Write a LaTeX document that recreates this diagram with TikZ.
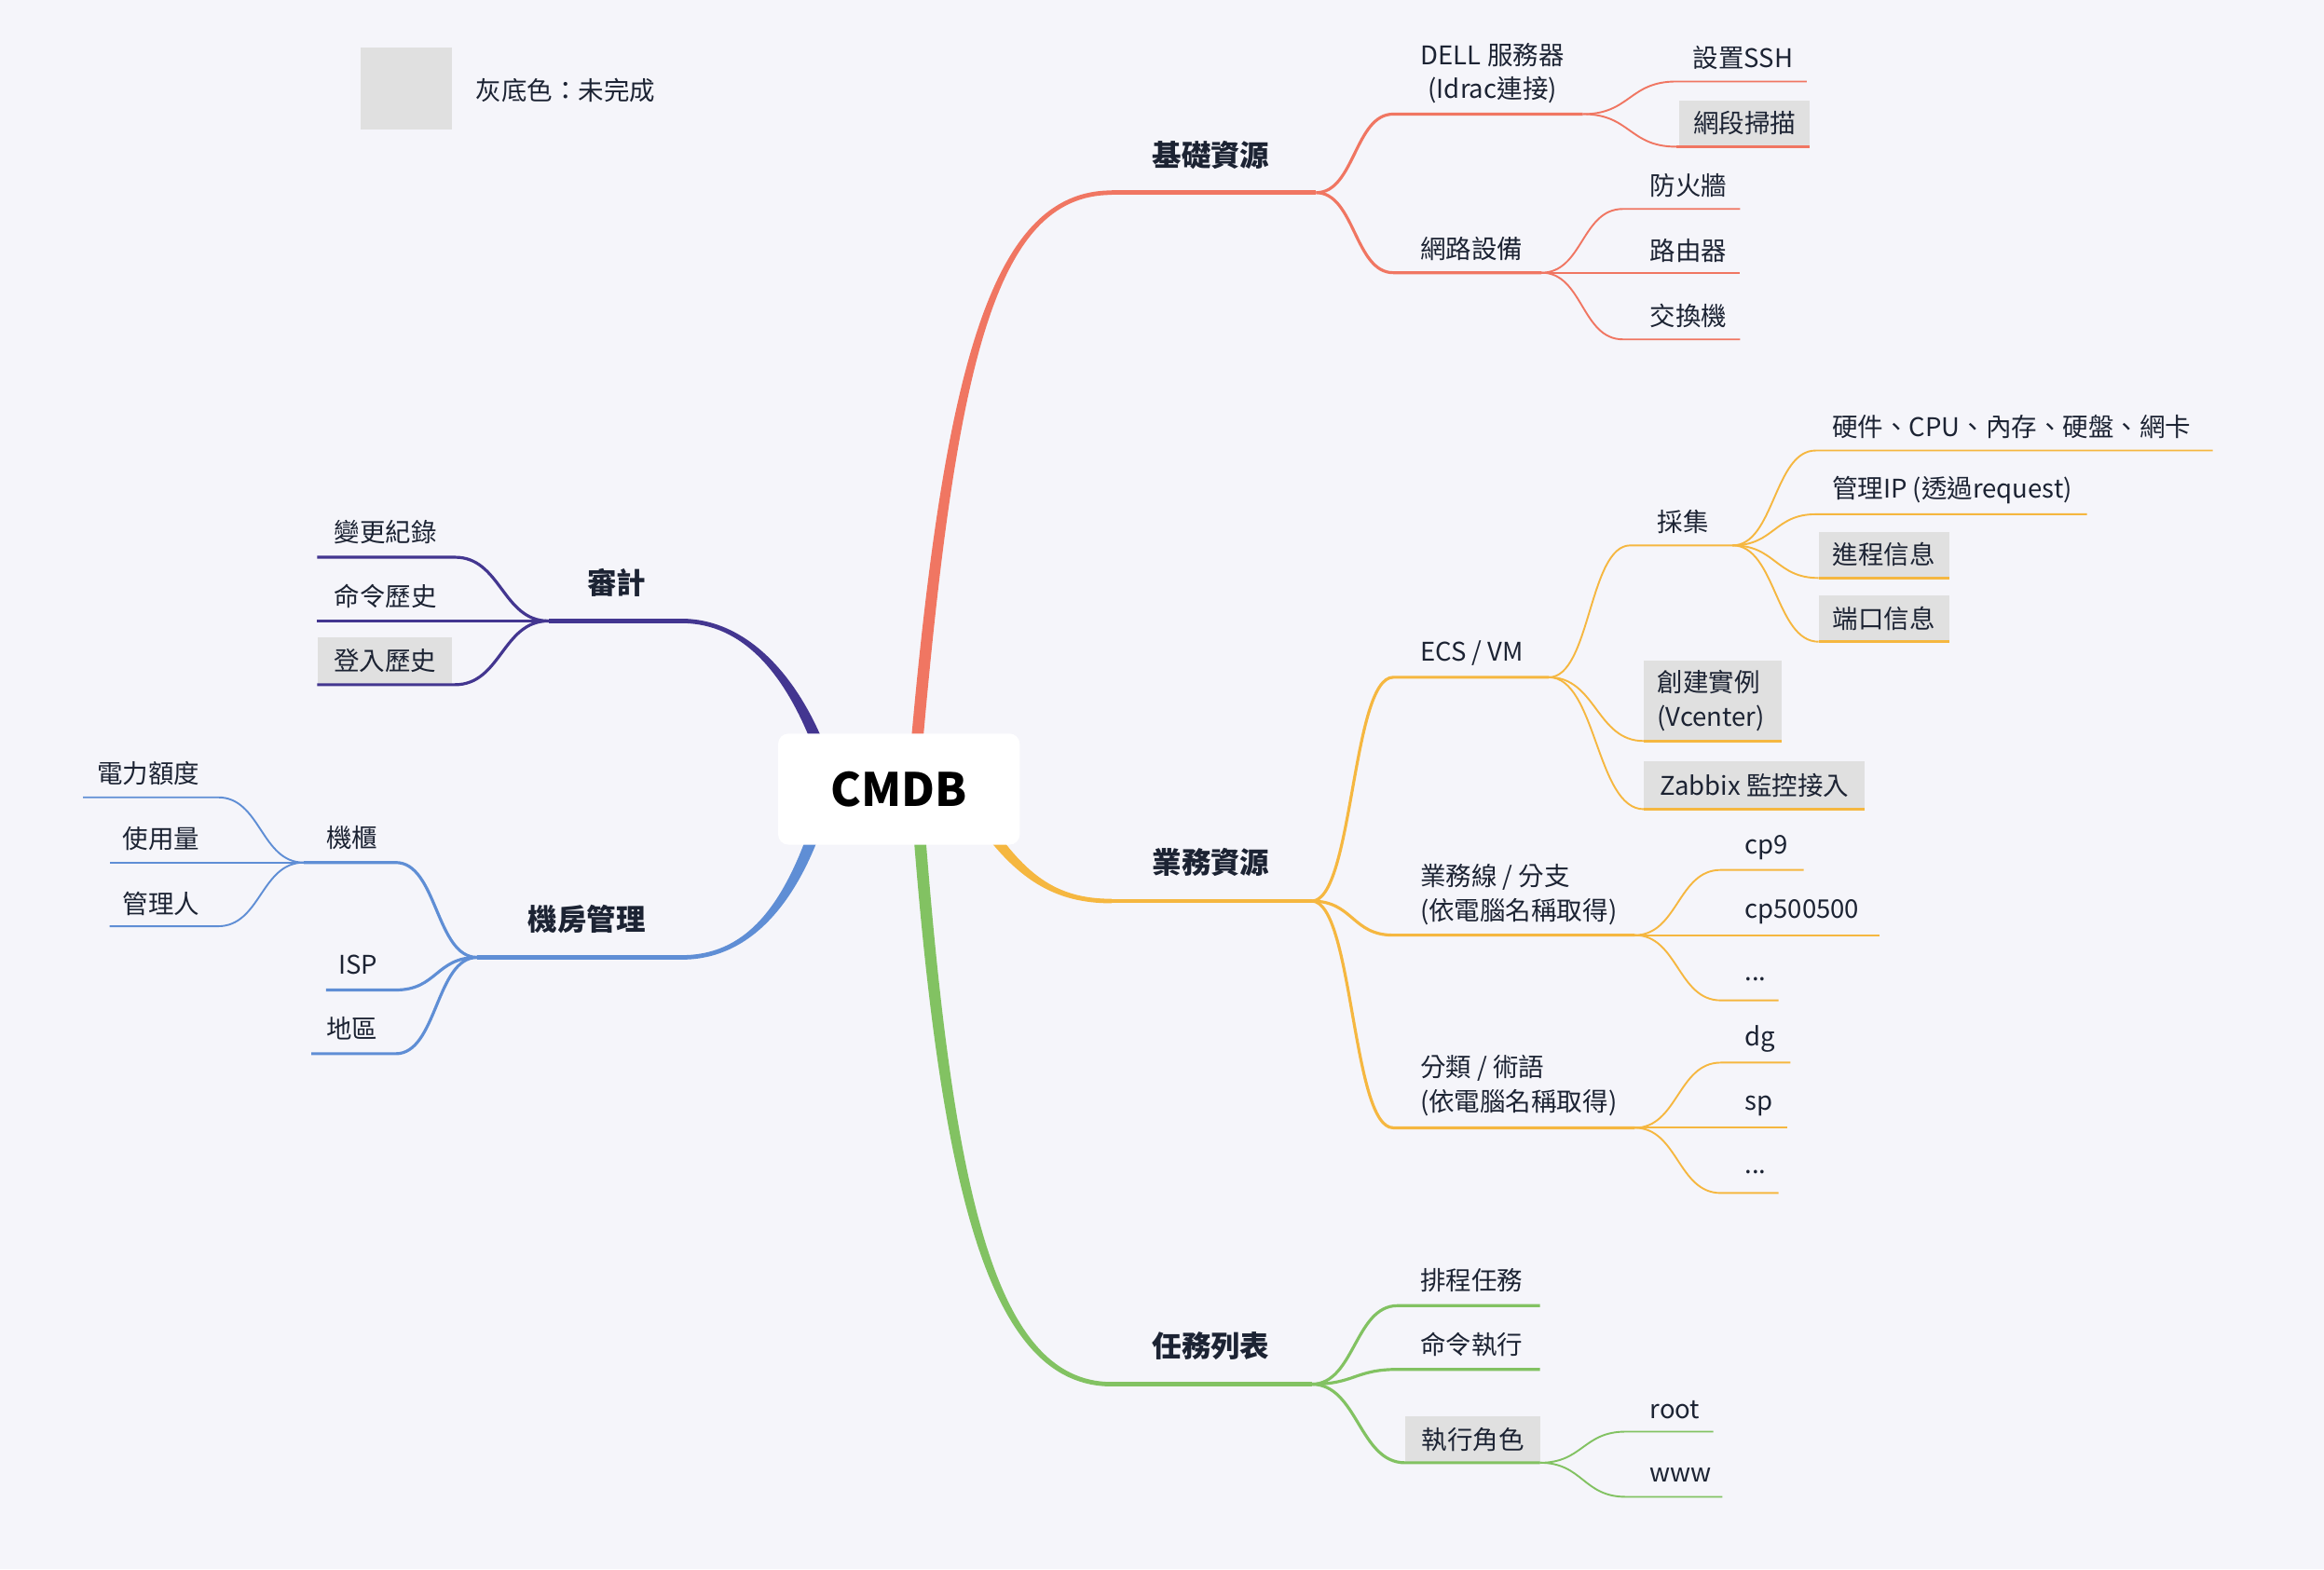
\documentclass[tikz,border=0pt]{standalone}
\usepackage{fontspec}
\setmainfont{Noto Sans CJK TC}
\definecolor{bg}{RGB}{245,245,250}
\definecolor{ink}{RGB}{28,35,51}
\definecolor{gfill}{RGB}{224,224,224}
\definecolor{cR}{RGB}{240,118,98}
\definecolor{cO}{RGB}{245,183,64}
\definecolor{cG}{RGB}{130,194,98}
\definecolor{cP}{RGB}{67,54,144}
\definecolor{cB}{RGB}{95,142,213}
\begin{document}
\begin{tikzpicture}[x=1pt,y=-1pt,
  txt/.style={inner sep=0pt,text=ink,font=\fontsize{17.3}{23}\selectfont,anchor=west},
  txtL/.style={txt,anchor=east},
  mainlbl/.style={inner sep=0pt,text=ink,font=\fontsize{19.8}{24}\selectfont\bfseries,anchor=center},
  gbox/.style={fill=gfill,inner sep=0pt,anchor=south west,text=ink,font=\fontsize{17.3}{23}\selectfont},
  l1/.style={line width=3pt},
  l2/.style={line width=2pt},
  l3/.style={line width=1.2pt},
  ul/.style={line width=1.8pt},
  toR/.style={out=0,in=180},
  toL/.style={out=180,in=0}]
% background
\fill[bg] (0,0) rectangle (1568,1059);
\useasboundingbox (0,0) rectangle (1568,1059);

% legend
\node[fill=gfill,inner sep=0pt,minimum width=62pt,minimum height=55pt,anchor=north west] (legbox) at (243,32) {};
\node[txt] (legtxt) at (321,61) {灰底色：未完成};

% ---------- root branches (tapered) ----------
\fill[cR] (613,520) .. controls (636,250) and (668,128.5) .. (750,128.5)
  -- (750,131.5) .. controls (670,131.5) and (644,250) .. (621,520) -- cycle;
\fill[cO] (663.3,547.8) .. controls (690.5,590) and (712,606.5) .. (750,606.5)
  -- (750,609.5) .. controls (712,609.5) and (685.5,594) .. (656.7,552.2) -- cycle;
\fill[cG] (615,545) .. controls (634,800) and (666,935.5) .. (750,935.5)
  -- (750,932.5) .. controls (670,932.5) and (642,800) .. (623,545) -- cycle;
\fill[cP] (556.2,526.2) .. controls (536.2,461.2) and (505,420.5) .. (460,420.5)
  -- (460,417.5) .. controls (505,417.5) and (543.8,458.8) .. (563.8,523.8) -- cycle;
\fill[cB] (551.2,543.8) .. controls (531.2,608.8) and (505,644.5) .. (460,644.5)
  -- (460,647.5) .. controls (505,647.5) and (538.8,611.2) .. (558.8,546.2) -- cycle;

% ---------- coordinates ----------
% red
\coordinate (rS) at (750,130); \coordinate (jR) at (888,130);
\coordinate (dellS) at (940,77); \coordinate (dellE) at (1068,77);
\coordinate (netS) at (940,184); \coordinate (netE) at (1040,184);
\coordinate (sshS) at (1131,55); \coordinate (sshE) at (1219,55);
\coordinate (scanS) at (1131,99); \coordinate (scanE) at (1221,99);
\coordinate (fwS) at (1095,141); \coordinate (fwE) at (1174,141);
\coordinate (rtE) at (1174,184);
\coordinate (swS) at (1095,229); \coordinate (swE) at (1174,229);
% orange
\coordinate (oS) at (750,608); \coordinate (jO) at (885,608);
\coordinate (ecsS) at (940,457); \coordinate (ecsE) at (1045,457);
\coordinate (bizS) at (940,631); \coordinate (bizE) at (1103,631);
\coordinate (catS) at (940,761); \coordinate (catE) at (1103,761);
\coordinate (colS) at (1100,368); \coordinate (colE) at (1169,368);
\coordinate (crtS) at (1109,500); \coordinate (crtE) at (1202,500);
\coordinate (zbxS) at (1109,546); \coordinate (zbxE) at (1258,546);
\coordinate (hwS) at (1225,304); \coordinate (hwE) at (1493,304);
\coordinate (ipS) at (1225,347); \coordinate (ipE) at (1408,347);
\coordinate (prcS) at (1227,390); \coordinate (prcE) at (1315,390);
\coordinate (prtS) at (1227,433); \coordinate (prtE) at (1315,433);
\coordinate (cp9S) at (1161,587); \coordinate (cp9E) at (1217,587);
\coordinate (cp5E) at (1268,631);
\coordinate (d1S) at (1161,675); \coordinate (d1E) at (1200,675);
\coordinate (dgS) at (1161,717); \coordinate (dgE) at (1208,717);
\coordinate (spE) at (1206,761);
\coordinate (d2S) at (1161,805); \coordinate (d2E) at (1200,805);
% green
\coordinate (gS) at (750,934); \coordinate (jG) at (885,934);
\coordinate (schS) at (943,881); \coordinate (schE) at (1039,881);
\coordinate (cmdS) at (943,924); \coordinate (cmdE) at (1039,924);
\coordinate (roleS) at (948,987); \coordinate (roleE) at (1039,987);
\coordinate (rootS) at (1097,966); \coordinate (rootE) at (1156,966);
\coordinate (wwwS) at (1097,1010); \coordinate (wwwE) at (1162,1010);
% purple
\coordinate (pS) at (460,419); \coordinate (jP) at (370,419);
\coordinate (chgS) at (307,376); \coordinate (chgE) at (214,376);
\coordinate (cmhE) at (214,419);
\coordinate (logS) at (307,462); \coordinate (logE) at (214,462);
% blue
\coordinate (bS) at (460,646); \coordinate (jB) at (322,646);
\coordinate (cabS) at (267,582); \coordinate (cabE) at (205,582);
\coordinate (ispS) at (267,668); \coordinate (ispE) at (220,668);
\coordinate (regS) at (267,711); \coordinate (regE) at (210,711);
\coordinate (powS) at (147,538); \coordinate (powE) at (56,538);
\coordinate (useE) at (74,582);
\coordinate (mgrS) at (147,625); \coordinate (mgrE) at (74,625);

% ---------- gray boxes ----------
\node[gbox,minimum width=88pt,minimum height=31pt] (scan) at (1133,99) {網段掃描};
\node[gbox,minimum width=93pt,minimum height=54pt,align=left,text width=75pt] (crt) at (1109,500) {\hspace*{0pt}創建實例\\(Vcenter)};
\node[gbox,minimum width=149pt,minimum height=32pt] (zbx) at (1109,546) {Zabbix 監控接入};
\node[gbox,minimum width=88pt,minimum height=31pt] (prc) at (1227,390) {進程信息};
\node[gbox,minimum width=88pt,minimum height=31pt] (prt) at (1227,433) {端口信息};
\node[gbox,minimum width=91pt,minimum height=31pt] (role) at (948,987) {執行角色};
\node[gbox,minimum width=91pt,minimum height=32pt] (login) at (214,462) {登入歷史};

% ---------- connectors ----------
\begin{scope}[cR]
\draw[l1] (rS) -- (jR);
\draw[l2] (jR) to[toR,distance=26pt] (dellS) -- (dellE);
\draw[l2] (jR) to[toR,distance=26pt] (netS) -- (netE);
\draw[l3] (dellE) to[toR,distance=32pt] (sshS) -- (sshE);
\draw[l3] (dellE) to[toR,distance=32pt] (scanS);
\draw[ul] (scanS) -- (scanE);
\draw[l3] (netE) to[toR,distance=28pt] (fwS) -- (fwE);
\draw[l3] (netE) -- (rtE);
\draw[l3] (netE) to[toR,distance=28pt] (swS) -- (swE);
\end{scope}
\begin{scope}[cO]
\draw[l1] (oS) -- (jO);
\draw[l2] (jO) to[toR,distance=28pt] (ecsS) -- (ecsE);
\draw[l2] (jO) to[toR,distance=28pt] (bizS) -- (bizE);
\draw[l2] (jO) to[toR,distance=28pt] (catS) -- (catE);
\draw[l3] (ecsE) to[toR,distance=28pt] (colS) -- (colE);
\draw[l3] (ecsE) to[toR,distance=32pt] (crtS);
\draw[ul] (crtS) -- (crtE);
\draw[l3] (ecsE) to[toR,distance=32pt] (zbxS);
\draw[ul] (zbxS) -- (zbxE);
\draw[l3] (colE) to[toR,distance=28pt] (hwS) -- (hwE);
\draw[l3] (colE) to[toR,distance=28pt] (ipS) -- (ipE);
\draw[l3] (colE) to[toR,distance=29pt] (prcS);
\draw[ul] (prcS) -- (prcE);
\draw[l3] (colE) to[toR,distance=29pt] (prtS);
\draw[ul] (prtS) -- (prtE);
\draw[l3] (bizE) to[toR,distance=29pt] (cp9S) -- (cp9E);
\draw[l3] (bizE) -- (cp5E);
\draw[l3] (bizE) to[toR,distance=29pt] (d1S) -- (d1E);
\draw[l3] (catE) to[toR,distance=29pt] (dgS) -- (dgE);
\draw[l3] (catE) -- (spE);
\draw[l3] (catE) to[toR,distance=29pt] (d2S) -- (d2E);
\end{scope}
\begin{scope}[cG]
\draw[l1] (gS) -- (jG);
\draw[l2] (jG) to[toR,distance=29pt] (schS) -- (schE);
\draw[l2] (jG) to[toR,distance=29pt] (cmdS) -- (cmdE);
\draw[l2] (jG) to[toR,distance=31pt] (roleS) -- (roleE);
\draw[l3] (roleE) to[toR,distance=29pt] (rootS) -- (rootE);
\draw[l3] (roleE) to[toR,distance=29pt] (wwwS) -- (wwwE);
\end{scope}
\begin{scope}[cP]
\draw[l1] (pS) -- (jP);
\draw[l2] (jP) to[toL,distance=31pt] (chgS) -- (chgE);
\draw[l2] (jP) -- (cmhE);
\draw[l2] (jP) to[toL,distance=31pt] (logS) -- (logE);
\end{scope}
\begin{scope}[cB]
\draw[l1] (bS) -- (jB);
\draw[l2] (jB) to[toL,distance=28pt] (cabS) -- (cabE);
\draw[l2] (jB) to[toL,distance=28pt] (ispS) -- (ispE);
\draw[l2] (jB) to[toL,distance=28pt] (regS) -- (regE);
\draw[l3] (cabE) to[toL,distance=29pt] (powS) -- (powE);
\draw[l3] (cabE) -- (useE);
\draw[l3] (cabE) to[toL,distance=29pt] (mgrS) -- (mgrE);
\end{scope}

% ---------- central node ----------
\node[fill=white,rounded corners=7pt,minimum width=163pt,minimum height=75pt,inner sep=0pt,
  font=\fontsize{31}{34}\selectfont\bfseries,text=black] (cmdb) at (606.5,532.5) {CMDB};

% ---------- labels ----------
\node[mainlbl] (base) at (817,105) {基礎資源};
\node[mainlbl] (biz) at (817,582) {業務資源};
\node[mainlbl] (task) at (817,908) {任務列表};
\node[mainlbl] (audit) at (416,393) {審計};
\node[mainlbl] (room) at (396,620) {機房管理};

\node[txt,anchor=center,align=center] (dell) at (1007,49.5) {DELL 服務器\\(Idrac連接)};
\node[txt] (net) at (958,168) {網路設備};
\node[txt] (ssh) at (1142,39) {設置SSH};
\node[txt] (fw) at (1113,125) {防火牆};
\node[txt] (rt) at (1113,169) {路由器};
\node[txt] (sw) at (1113,213) {交換機};

\node[txt] (ecs) at (958,441) {ECS / VM};
\node[txt,align=left] (bizline) at (958,603.5) {業務線 / 分支\\(依電腦名稱取得)};
\node[txt,align=left] (cat) at (958,732.5) {分類 / 術語\\(依電腦名稱取得)};
\node[txt] (col) at (1118,352) {採集};
\node[txt] (hw) at (1236,288) {硬件、CPU、內存、硬盤、網卡};
\node[txt] (ip) at (1236,331) {管理IP (透過request)};
\node[txt] (cp9) at (1177,572) {cp9};
\node[txt] (cp5) at (1177,615) {cp500500};
\node[txt] (dots1) at (1177,661) {...};
\node[txt] (dg) at (1177,701) {dg};
\node[txt] (sp) at (1177,746) {sp};
\node[txt] (dots2) at (1177,791) {...};

\node[txt] (sch) at (958,864) {排程任務};
\node[txt] (cmd) at (958,907) {命令執行};
\node[txt] (root) at (1113,951) {root};
\node[txt] (www) at (1113,995) {www};

\node[txtL] (chg) at (295,359) {變更紀錄};
\node[txtL] (cmh) at (295,402) {命令歷史};

\node[txtL] (cab) at (255,565) {機櫃};
\node[txtL] (isp) at (255,651) {ISP};
\node[txtL] (reg) at (255,694) {地區};
\node[txtL] (pow) at (135,522) {電力額度};
\node[txtL] (use) at (135,566) {使用量};
\node[txtL] (mgr) at (135,610) {管理人};
\end{tikzpicture}
\end{document}
